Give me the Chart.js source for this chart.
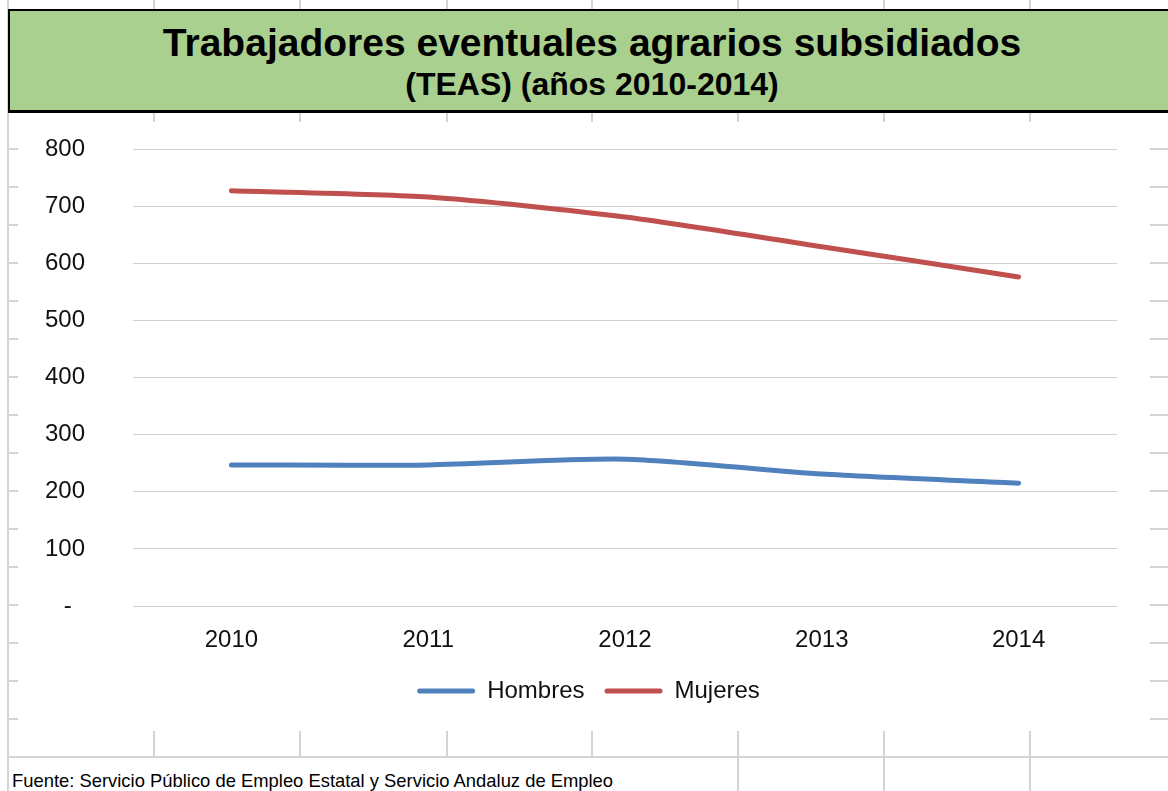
<!DOCTYPE html>
<html>
<head>
<meta charset="utf-8">
<script src="https://cdn.jsdelivr.net/npm/chart.js@4.4.1/dist/chart.umd.min.js"></script>
<style>
  html, body { margin:0; padding:0; background:#fff; }
  body { width:1168px; height:791px; position:relative; overflow:hidden; font-family:"Liberation Sans", Arial, sans-serif; }
  #sheet { position:absolute; left:0; top:0; }
  #titleBox { position:absolute; left:8px; top:9px; width:1170px; height:99px; background:#A9D08E; border:2px solid #000; border-bottom-width:3px; }
  .t1 { position:absolute; left:0; width:1164px; text-align:center; font-weight:bold; color:#000; white-space:nowrap; }
  #chartBox { position:absolute; left:18px; top:122px; width:1132px; height:609px; background:#fff; }
  #footerMask { position:absolute; left:10px; top:758px; width:726px; height:33px; background:#fff; }
  #footer { position:absolute; left:12px; top:771px; font-size:18.4px; line-height:20px; color:#000; white-space:nowrap; }
</style>
</head>
<body>
<canvas id="sheet" width="1168" height="791"></canvas>
<div id="titleBox">
  <div class="t1" style="top:12px; font-size:39px; line-height:40px;">Trabajadores eventuales agrarios subsidiados</div>
  <div class="t1" style="top:56px; font-size:32px; line-height:34px;">(TEAS) (años 2010-2014)</div>
</div>
<div id="chartBox"><canvas id="c" width="1132" height="609"></canvas></div>
<div id="footerMask"></div>
<div id="footer">Fuente: Servicio Público de Empleo Estatal y Servicio Andaluz de Empleo</div>
<script>
// ---- data ----
const years = ['2010', '2011', '2012', '2013', '2014'];
const hombres = [247, 247, 257, 231, 215];
const mujeres = [727, 716, 681, 629, 576];
const seriesNames = ['Hombres', 'Mujeres'];
const yTicks = [0, 100, 200, 300, 400, 500, 600, 700, 800];

// ---- spreadsheet background grid ----
(function () {
  const g = document.getElementById('sheet').getContext('2d');
  g.strokeStyle = '#d4d4d4';
  g.lineWidth = 2;
  const cols = [8, 154, 300, 447, 592, 738, 884, 1030];
  cols.forEach(x => { g.beginPath(); g.moveTo(x, 0); g.lineTo(x, 791); g.stroke(); });
  for (let y = 111 - 38 * 3; y <= 791; y += 38) {
    g.beginPath(); g.moveTo(8, y); g.lineTo(1168, y); g.stroke();
  }
})();

// shift legend so it is centred on the whole chart object like the reference
const legendShift = {
  id: 'legendShift',
  afterLayout(chart) {
    if (chart.legend) { chart.legend.left += 21; chart.legend.right += 21; }
  }
};

// ---- chart ----
const ctx = document.getElementById('c').getContext('2d');
new Chart(ctx, {
  type: 'line',
  plugins: [legendShift],
  data: {
    labels: years,
    datasets: [
      { label: seriesNames[0], data: hombres, borderColor: '#4F81BD', backgroundColor: '#4F81BD',
        borderWidth: 5, pointRadius: 0, tension: 0.25, borderCapStyle: 'round', borderJoinStyle: 'round' },
      { label: seriesNames[1], data: mujeres, borderColor: '#C0504D', backgroundColor: '#C0504D',
        borderWidth: 5, pointRadius: 0, tension: 0.25, borderCapStyle: 'round', borderJoinStyle: 'round' }
    ]
  },
  options: {
    responsive: false,
    devicePixelRatio: 1,
    animation: false,
    layout: { padding: { left: 0, right: 33, top: 27, bottom: 18 } },
    plugins: {
      title: { display: false },
      tooltip: { enabled: false },
      legend: {
        display: true,
        position: 'bottom',
        labels: {
          color: '#111',
          font: { family: '"Liberation Sans", Arial, sans-serif', size: 24 },
          boxWidth: 58,
          boxHeight: 5,
          padding: 20,
          useBorderRadius: true,
          borderRadius: 2.5,
          generateLabels(chart) {
            const items = Chart.defaults.plugins.legend.labels.generateLabels(chart);
            items.forEach(it => { it.lineWidth = 0; it.fillStyle = it.strokeStyle; });
            return items;
          }
        }
      }
    },
    scales: {
      x: {
        offset: true,
        grid: { display: false, drawTicks: false },
        border: { display: false },
        ticks: { color: '#111', font: { family: '"Liberation Sans", Arial, sans-serif', size: 24 }, padding: 20, maxRotation: 0 },
        afterFit(scale) { scale.height = 53; }
      },
      y: {
        min: yTicks[0],
        max: yTicks[yTicks.length - 1],
        afterBuildTicks(scale) { scale.ticks = yTicks.map(v => ({ value: v })); },
        grid: { color: '#d0d0d0', lineWidth: 1, drawTicks: false },
        border: { display: false },
        ticks: {
          color: '#111',
          font: { family: '"Liberation Sans", Arial, sans-serif', size: 24 },
          padding: 48,
          callback: v => (v === 0 ? '-  ' : String(v))
        },
        afterFit(scale) { scale.width = 115; scale.paddingTop = 0; scale.paddingBottom = 0; }
      }
    }
  }
});
</script>
</body>
</html>
